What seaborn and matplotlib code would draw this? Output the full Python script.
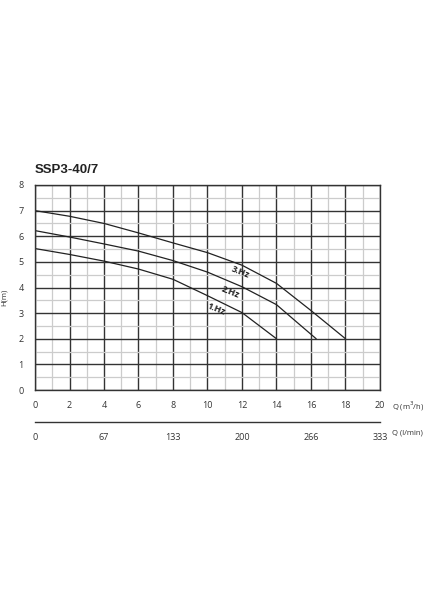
import numpy as np
import pandas as pd
import matplotlib
matplotlib.use("Agg")
import matplotlib.pyplot as plt
import seaborn as sns

# pump curves: Q (m3/h) vs H (m)
q_3hz = [0, 2, 4, 6, 8, 10, 12, 14, 16, 18]
h_3hz = [7.0, 6.78, 6.5, 6.13, 5.74, 5.36, 4.87, 4.16, 3.1, 2.0]
q_2hz = [0, 2, 4, 6, 8, 10, 12, 14, 15, 16.3]
h_2hz = [6.22, 5.97, 5.7, 5.42, 5.05, 4.6, 4.03, 3.33, 2.75, 2.0]
q_1hz = [0, 2, 4, 6, 8, 10, 12, 14]
h_1hz = [5.52, 5.29, 5.03, 4.72, 4.32, 3.68, 3.02, 2.0]

q_ticks = [0, 2, 4, 6, 8, 10, 12, 14, 16, 18, 20]
lmin_labels = ["0", "67", "133", "200", "266", "333"]
title = "SSP3-40/7"

frames = []
for name, q, h in [("3.Hz", q_3hz, h_3hz), ("2.Hz", q_2hz, h_2hz), ("1.Hz", q_1hz, h_1hz)]:
    frames.append(pd.DataFrame({"Q": q, "H": h, "curve": name}))
df = pd.concat(frames, ignore_index=True)

sns.set_style("white")
plt.rcParams["font.family"] = ["Open Sans", "DejaVu Sans"]

fig = plt.figure(figsize=(4.24, 6.0), dpi=100)
ax = fig.add_axes([35/424, 1-390/600, 345/424, 205/600])

sns.lineplot(data=df, x="Q", y="H", units="curve", estimator=None, color="#222222",
             linewidth=0.9, sort=False, ax=ax, legend=False)

ax.set_xlim(0, 20)
ax.set_ylim(0, 8)
ax.set_xticks(q_ticks)
ax.set_xticks(np.arange(0, 21, 1), minor=True)
ax.set_yticks(range(0, 9))
ax.set_yticks(np.arange(0, 8.5, 0.5), minor=True)
ax.grid(which="minor", color="#cccccc", linewidth=0.9)
ax.grid(which="major", color="#333333", linewidth=1.0)
ax.set_axisbelow(True)
for s in ax.spines.values():
    s.set_color("#333333")
    s.set_linewidth(1.0)
ax.tick_params(which="major", labelsize=6.5, colors="#333333", length=3, width=0.8, pad=5)
ax.tick_params(which="minor", length=0)
ax.set_xlabel("")
ax.set_ylabel("H(m)", fontsize=5.5, color="#333333")
ax.yaxis.set_label_coords(-0.078, 0.45)

# curve labels
for txt, x, y in [("3.Hz", 11.9, 4.6), ("2.Hz", 11.3, 3.83), ("1.Hz", 10.5, 3.16)]:
    ax.text(x, y, txt, fontsize=6.5, fontweight="bold", color="#222222",
            rotation=-22, ha="center", va="center")

fig.text(35/424, 1-170/600, title, fontsize=9.5, fontweight="bold",
         family=["Liberation Sans", "DejaVu Sans"], color="#222222", va="center")
fig.text(392/424, 1-406/600, "Q (m$^3$/h)", fontsize=5.5, color="#333333", va="center")

# secondary flow scale in l/min
ax2 = fig.add_axes([35/424, 1-422/600, 345/424, 0.001])
ax2.set_xlim(0, 20)
ax2.set_yticks([])
for side in ["top", "left", "right"]:
    ax2.spines[side].set_visible(False)
ax2.spines["bottom"].set_color("#333333")
ax2.spines["bottom"].set_linewidth(1.0)
ax2.set_xticks(q_ticks[::2])
ax2.set_xticklabels(lmin_labels)
ax2.tick_params(axis="x", direction="inout", length=4, width=0.8, labelsize=6.5,
                colors="#333333", pad=6)
fig.text(392/424, 1-433/600, "Q (l/min)", fontsize=5.5, color="#333333", va="center")

fig.savefig("out.png", dpi=100, facecolor="white")
